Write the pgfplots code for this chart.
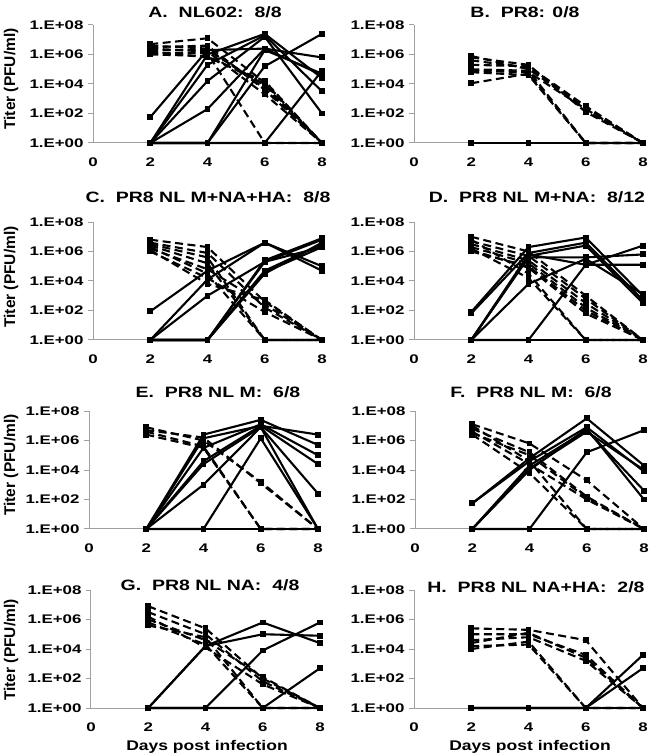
\documentclass[border=0pt]{standalone}
\usepackage{fontspec}
\setmainfont{Liberation Sans}[FakeStretch=1.25]
\newfontfamily\plainsans{Liberation Sans}
\newfontfamily\ticksans{Liberation Sans}[FakeStretch=1.35]
\newfontfamily\titlesans{Liberation Sans}[FakeStretch=1.3]
\usepackage{pgfplots}
\pgfplotsset{compat=1.18}
\definecolor{axgray}{RGB}{160,160,160}
\pgfplotsset{
 panel/.style={scale only axis, width=229pt, height=118pt, xmin=0, xmax=8, ymin=0, ymax=8,
  axis x line*=bottom, axis y line*=left, axis line style={draw=axgray, line width=1pt, -},
  xtick={0,2,4,6,8}, ytick={0,2,4,6,8}, yticklabels={1.E+00,1.E+02,1.E+04,1.E+06,1.E+08},
  tick align=outside, major tick length=5pt, ytick style={draw=axgray, line width=1pt}, xtick style={draw=none},
  tick label style={font=\ticksans\fontsize{12.5}{14}\selectfont\bfseries},
  /pgf/number format/assume math mode=true,
  xticklabel style={yshift=-6pt}, yticklabel style={xshift=-1pt},
  clip=false, anchor=south west},
 sol/.style={black, line width=2.1pt, mark=square*, mark size=1.9pt, mark options={solid}},
 das/.style={black, line width=2.1pt, dash pattern=on 8pt off 4.5pt, mark=square*, mark size=1.9pt, mark options={solid}},
}
\newcommand{\Sl}[1]{\addplot[sol] coordinates {#1};}
\newcommand{\Dl}[1]{\addplot[das] coordinates {#1};}
\begin{document}
\begin{tikzpicture}
\path[use as bounding box] (0,0) rectangle (650pt,755pt);
% A
\begin{axis}[panel, at={(93pt,612pt)}]
\Sl{(2,0)(4,0)(6,0)(8,0)}
\Sl{(2,1.75)(4,6.3)(6,6.4)(8,5.8)}
\Sl{(2,0)(4,6.0)(6,7.4)(8,4.4)}
\Sl{(2,0)(4,5.3)(6,7.3)(8,3.5)}
\Sl{(2,0)(4,4.2)(6,7.2)(8,2.0)}
\Sl{(2,0)(4,2.3)(6,6.4)(8,4.6)}
\Sl{(2,0)(4,0)(6,5.2)(8,7.4)}
\Sl{(2,0)(4,0)(6,6.3)(8,4.7)}
\Sl{(2,0)(4,0)(6,0)(8,4.9)}
\Dl{(2,6.7)(4,7.1)(6,4.1)(8,0)}
\Dl{(2,6.5)(4,6.6)(6,3.6)(8,0)}
\Dl{(2,6.3)(4,6.3)(6,3.9)(8,0)}
\Dl{(2,6.1)(4,6.1)(6,0)(8,0)}
\Dl{(2,6.4)(4,6.2)(6,3.3)(8,0)}
\Dl{(2,6.2)(4,5.8)(6,4.2)(8,0)}
\Dl{(2,6.6)(4,6.4)(6,3.7)(8,0)}
\Dl{(2,6.0)(4,5.9)(6,4.0)(8,0)}
\end{axis}
% B
\begin{axis}[panel, at={(414pt,612pt)}]
\Sl{(2,0)(4,0)(6,0)(8,0)}
\Dl{(2,5.9)(4,5.0)(6,2.4)(8,0)}
\Dl{(2,5.6)(4,5.1)(6,2.2)(8,0)}
\Dl{(2,5.0)(4,4.9)(6,0)(8,0)}
\Dl{(2,4.9)(4,4.8)(6,2.3)(8,0)}
\Dl{(2,4.05)(4,4.7)(6,0)(8,0)}
\Dl{(2,5.3)(4,5.2)(6,2.5)(8,0)}
\Dl{(2,4.8)(4,4.6)(6,0)(8,0)}
\Dl{(2,5.8)(4,5.3)(6,2.1)(8,0)}
\end{axis}
% C
\begin{axis}[panel, at={(93pt,415pt)}]
\Sl{(2,1.94)(4,4.7)(6,6.6)(8,4.7)}
\Sl{(2,0)(4,4.1)(6,6.6)(8,5.0)}
\Sl{(2,0)(4,3.0)(6,5.3)(8,6.3)}
\Sl{(2,0)(4,0)(6,5.4)(8,6.9)}
\Sl{(2,0)(4,0)(6,4.7)(8,6.5)}
\Sl{(2,0)(4,0)(6,4.6)(8,6.3)}
\Sl{(2,0)(4,0)(6,5.3)(8,6.8)}
\Sl{(2,0)(4,0)(6,4.5)(8,6.6)}
\Dl{(2,6.8)(4,6.3)(6,2.6)(8,0)}
\Dl{(2,6.5)(4,5.6)(6,0)(8,0)}
\Dl{(2,6.2)(4,4.8)(6,2.4)(8,0)}
\Dl{(2,6.0)(4,4.2)(6,1.9)(8,0)}
\Dl{(2,6.4)(4,5.2)(6,0)(8,0)}
\Dl{(2,6.1)(4,3.8)(6,2.7)(8,0)}
\Dl{(2,6.6)(4,5.9)(6,2.2)(8,0)}
\Dl{(2,6.3)(4,4.5)(6,0)(8,0)}
\end{axis}
% D
\begin{axis}[panel, at={(414pt,415pt)}]
\Sl{(2,0)(4,0)(6,0)(8,0)}
\Sl{(2,1.9)(4,6.3)(6,6.95)(8,3.0)}
\Sl{(2,1.8)(4,5.9)(6,6.6)(8,2.7)}
\Sl{(2,0)(4,5.7)(6,6.4)(8,2.5)}
\Sl{(2,0)(4,5.6)(6,5.6)(8,5.8)}
\Sl{(2,0)(4,5.8)(6,5.1)(8,5.1)}
\Sl{(2,0)(4,3.8)(6,5.5)(8,3.1)}
\Sl{(2,0)(4,0)(6,5.1)(8,6.4)}
\Dl{(2,7.0)(4,6.0)(6,3.0)(8,0)}
\Dl{(2,6.7)(4,5.7)(6,2.8)(8,0)}
\Dl{(2,6.5)(4,5.4)(6,2.5)(8,0)}
\Dl{(2,6.3)(4,5.2)(6,2.2)(8,0)}
\Dl{(2,6.1)(4,4.9)(6,1.8)(8,0)}
\Dl{(2,6.8)(4,4.5)(6,0)(8,0)}
\Dl{(2,6.2)(4,4.2)(6,0)(8,0)}
\Dl{(2,6.0)(4,5.0)(6,2.0)(8,0)}
\end{axis}
% E
\begin{axis}[panel, at={(89pt,226pt)}]
\Sl{(2,0)(4,0)(6,0)(8,0)}
\Sl{(2,0)(4,6.4)(6,7.4)(8,5.7)}
\Sl{(2,0)(4,6.15)(6,7.0)(8,6.4)}
\Sl{(2,0)(4,5.5)(6,7.1)(8,5.0)}
\Sl{(2,0)(4,4.6)(6,7.0)(8,4.4)}
\Sl{(2,0)(4,4.4)(6,6.9)(8,2.4)}
\Sl{(2,0)(4,3.0)(6,6.9)(8,0)}
\Sl{(2,0)(4,0)(6,6.15)(8,0)}
\Dl{(2,6.9)(4,6.0)(6,3.2)(8,0)}
\Dl{(2,6.6)(4,5.6)(6,0)(8,0)}
\Dl{(2,6.4)(4,5.5)(6,0)(8,0)}
\Dl{(2,6.7)(4,6.2)(6,3.1)(8,0)}
\end{axis}
% F
\begin{axis}[panel, at={(415pt,226pt)}]
\Sl{(2,0)(4,0)(6,0)(8,0)}
\Sl{(2,1.74)(4,4.8)(6,7.5)(8,4.3)}
\Sl{(2,1.74)(4,4.6)(6,6.9)(8,3.9)}
\Sl{(2,0)(4,4.3)(6,6.7)(8,2.6)}
\Sl{(2,0)(4,4.0)(6,6.8)(8,2.0)}
\Sl{(2,0)(4,4.1)(6,6.6)(8,4.0)}
\Sl{(2,0)(4,0)(6,5.2)(8,6.7)}
\Dl{(2,7.1)(4,5.8)(6,3.3)(8,0)}
\Dl{(2,6.8)(4,5.2)(6,2.2)(8,0)}
\Dl{(2,6.6)(4,4.4)(6,2.0)(8,0)}
\Dl{(2,6.4)(4,3.8)(6,0)(8,0)}
\Dl{(2,7.0)(4,4.6)(6,0)(8,0)}
\Dl{(2,6.5)(4,5.0)(6,2.1)(8,0)}
\end{axis}
% G
\begin{axis}[panel, at={(91pt,47pt)}]
\Sl{(2,0)(4,0)(6,0)(8,0)}
\Sl{(2,0)(4,4.2)(6,5.8)(8,4.4)}
\Sl{(2,0)(4,4.2)(6,5.0)(8,4.9)}
\Sl{(2,0)(4,0)(6,3.9)(8,5.8)}
\Sl{(2,0)(4,0)(6,0)(8,2.7)}
\Dl{(2,6.9)(4,5.4)(6,2.0)(8,0)}
\Dl{(2,6.5)(4,5.0)(6,1.8)(8,0)}
\Dl{(2,6.0)(4,4.6)(6,2.1)(8,0)}
\Dl{(2,5.8)(4,4.3)(6,0)(8,0)}
\Dl{(2,6.2)(4,4.1)(6,1.6)(8,0)}
\Dl{(2,5.6)(4,4.8)(6,0)(8,0)}
\end{axis}
% H
\begin{axis}[panel, at={(414pt,47pt)}]
\Sl{(2,0)(4,0)(6,0)(8,0)}
\Sl{(2,0)(4,0)(6,0)(8,3.6)}
\Sl{(2,0)(4,0)(6,0)(8,2.7)}
\Dl{(2,5.4)(4,5.3)(6,4.6)(8,0)}
\Dl{(2,5.0)(4,5.0)(6,3.6)(8,0)}
\Dl{(2,4.6)(4,4.8)(6,3.2)(8,0)}
\Dl{(2,4.0)(4,4.5)(6,0)(8,0)}
\Dl{(2,4.4)(4,5.1)(6,3.4)(8,0)}
\Dl{(2,4.2)(4,4.3)(6,0)(8,0)}
\end{axis}
% titles
\begin{scope}[every node/.style={font=\titlesans\fontsize{15}{17}\selectfont\bfseries, inner sep=0pt}]
\node at (215pt,743pt) {A.\ \ NL602:\ \ 8/8};
\node at (525pt,743pt) {B.\ \ PR8: 0/8};
\node at (208pt,558pt) {C.\ \ PR8 NL M+NA+HA:\ \ 8/8};
\node at (537pt,558pt) {D.\ \ PR8 NL M+NA:\ \ 8/12};
\node at (218pt,363pt) {E.\ \ PR8 NL M:\ \ 6/8};
\node at (531pt,363pt) {F.\ \ PR8 NL M:\ \ 6/8};
\node at (210pt,170pt) {G.\ \ PR8 NL NA:\ \ 4/8};
\node at (536pt,168pt) {H.\ \ PR8 NL NA+HA:\ \ 2/8};
\end{scope}
\begin{scope}[every node/.style={font=\plainsans\fontsize{15.5}{17}\selectfont\bfseries, inner sep=0pt, rotate=90}]
\node at (11pt,676pt) {Titer (PFU/ml)};
\node at (11pt,478pt) {Titer (PFU/ml)};
\node at (11pt,290pt) {Titer (PFU/ml)};
\node at (11pt,105pt) {Titer (PFU/ml)};
\end{scope}
\begin{scope}[every node/.style={font=\fontsize{14}{16}\selectfont\bfseries, inner sep=0pt}]
\node at (207pt,8pt) {Days post infection};
\node at (530pt,8pt) {Days post infection};
\end{scope}
\end{tikzpicture}
\end{document}
